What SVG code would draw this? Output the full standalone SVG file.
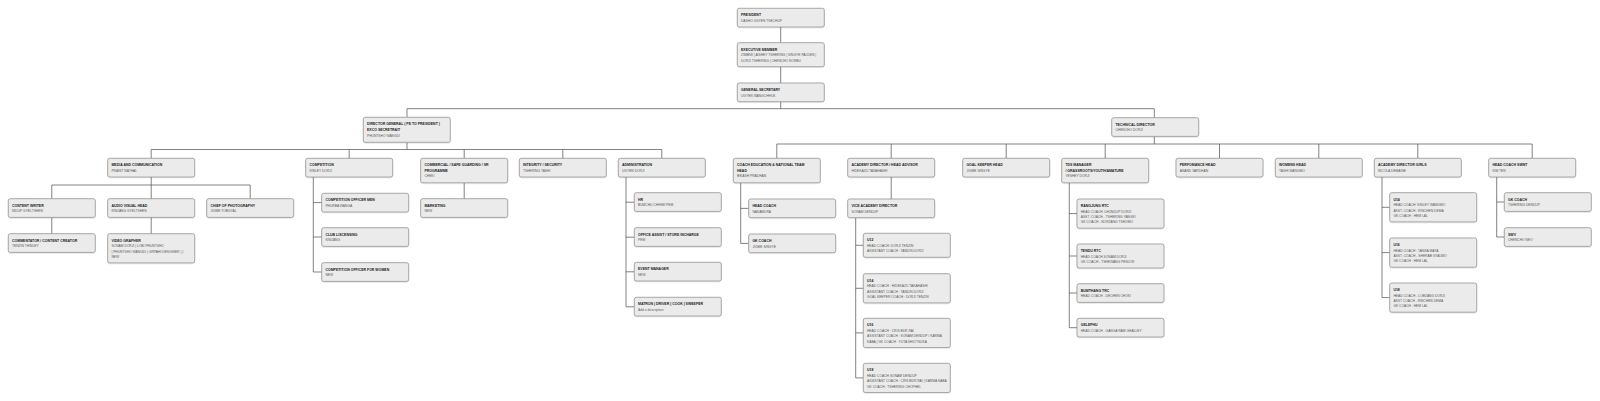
<svg xmlns="http://www.w3.org/2000/svg" width="1600" height="401" viewBox="0 0 1600 401">
<defs>
<filter id="sh" x="-5%" y="-10%" width="110%" height="130%">
<feDropShadow dx="0" dy="0.5" stdDeviation="0.5" flood-color="#000" flood-opacity="0.2"/>
</filter>
<style>
.n rect{fill:#ebebeb;stroke:#8c8c8c;stroke-width:0.7;rx:2px;ry:2px;filter:url(#sh)}
.t{font-family:"Liberation Sans",Arial,sans-serif;font-size:3.5px;font-weight:bold;fill:#222}
.s{font-family:"Liberation Sans",Arial,sans-serif;font-size:3.3px;fill:#5a5a5a}
.c{fill:none;stroke:#4d4d4d;stroke-width:0.7}
</style>
</defs>
<rect width="1600" height="401" fill="#ffffff"/>
<g id="connectors" class="c">
<path d="M780.7 27 V42.7 M780.7 66.7 V83 M780.7 101.7 V108.7 M407 108.7 H1154.3 M407 108.7 V117.3 M1154.3 108.7 V117.7"/>
<path d="M407 142.3 V149.5 M151.2 149.5 H661.8 M151.2 149.5 V158.3 M349.2 149.5 V158.3 M464.2 149.5 V158.3 M562.8 149.5 V158.3 M661.8 149.5 V158.3"/>
<path d="M1154.3 136.4 V144 M776.8 144 H1532.2 M776.8 144 V158.3 M891.2 144 V158.3 M1006.2 144 V158.3 M1105.2 144 V158.3 M1219.5 144 V158.3 M1318.8 144 V158.3 M1417.8 144 V158.3 M1532.2 144 V158.3"/>
<path d="M151.2 177 V185 M51.8 185 H250.2 M51.8 185 V198.7 M151.2 185 V198.7 M250.2 185 V198.7 M51.8 217.4 V233.7 M151.2 217.4 V233.7"/>
<path d="M313.3 177 V272 H321.7 M313.3 202.6 H321.7 M313.3 237 H321.7"/>
<path d="M464.2 182.8 V198.7"/>
<path d="M626 177 V306.8 H634.3 M626 202.2 H634.3 M626 237.2 H634.3 M626 271.8 H634.3"/>
<path d="M740.7 182.8 V243.4 H748.7 M740.7 208.4 H748.7"/>
<path d="M891.2 177 V199 M855.7 217.7 V377.9 H863.3 M855.7 245.3 H863.3 M855.7 288.3 H863.3 M855.7 332.9 H863.3"/>
<path d="M1069.3 182.8 V327.7 H1077 M1069.3 213.6 H1077 M1069.3 256 H1077 M1069.3 293 H1077"/>
<path d="M1382 177 V297.6 H1389.7 M1382 207.3 H1389.7 M1382 252.6 H1389.7"/>
<path d="M1496.7 177 V237 H1504.3 M1496.7 202 H1504.3"/>
</g>
<g id="president" class="n" transform="translate(737.3,8.3)"><rect width="87" height="18.7"/><text class="t" x="3.7" y="8.2">PRESIDENT</text><text class="s" x="3.7" y="13.6">DASHO UGYEN TSECHUP</text></g>
<g id="executive" class="n" transform="translate(737.3,42.7)"><rect width="87" height="24"/><text class="t" x="3.7" y="8.2">EXECUTIVE MEMBER</text><text class="s" x="3.7" y="13.6">ZIMBIW | AISHEY TSHERING | SINGYE PALDEN |</text><text class="s" x="3.7" y="19">DORJI TSHERING | CHENCHO NORBU</text></g>
<g id="gensec" class="n" transform="translate(737.3,83)"><rect width="87" height="18.7"/><text class="t" x="3.7" y="8.2">GENERAL SECRETARY</text><text class="s" x="3.7" y="13.6">UGYEN WANGCHHUK</text></g>
<g id="dg" class="n" transform="translate(363.3,117.3)"><rect width="87" height="25"/><text class="t" x="3.7" y="8.2">DIRECTOR GENERAL ( PE TO PRESIDENT )</text><text class="t" x="3.7" y="13.8">EXCO SECRETRAIT</text><text class="s" x="3.7" y="19.4">PHUNTSHO WANGDI</text></g>
<g id="td" class="n" transform="translate(1111.7,117.7)"><rect width="87" height="18.7"/><text class="t" x="3.7" y="8.2">TECHNICAL DIRECTOR</text><text class="s" x="3.7" y="13.6">CHENCHO DORJI</text></g>
<g id="media" class="n" transform="translate(107.7,158.3)"><rect width="87" height="18.7"/><text class="t" x="3.7" y="8.2">MEDIA AND COMMUNICATION</text><text class="s" x="3.7" y="13.6">PRANIT NATHAL</text></g>
<g id="competition" class="n" transform="translate(305.7,158.3)"><rect width="87" height="18.7"/><text class="t" x="3.7" y="8.2">COMPETITION</text><text class="s" x="3.7" y="13.6">KINLEY DORJI</text></g>
<g id="commercial" class="n" transform="translate(420.7,158.3)"><rect width="87" height="24.5"/><text class="t" x="3.7" y="8.2">COMMERCIAL / SAFE GUARDING / SR</text><text class="t" x="3.7" y="13.8">PROGRAMME</text><text class="s" x="3.7" y="19.2">CHEKI</text></g>
<g id="integrity" class="n" transform="translate(519.3,158.3)"><rect width="87" height="18.7"/><text class="t" x="3.7" y="8.2">INTEGRITY / SECURITY</text><text class="s" x="3.7" y="13.6">TSHERING TASHI</text></g>
<g id="administration" class="n" transform="translate(618.3,158.3)"><rect width="87" height="18.7"/><text class="t" x="3.7" y="8.2">ADMINISTRATION</text><text class="s" x="3.7" y="13.6">UGYEN DORJI</text></g>
<g id="coached" class="n" transform="translate(733.3,158.3)"><rect width="87" height="24.5"/><text class="t" x="3.7" y="8.2">COACH EDUCATION &amp; NATIONAL TEAM</text><text class="t" x="3.7" y="13.8">HEAD</text><text class="s" x="3.7" y="19.2">BIKASH PRADHAN</text></g>
<g id="academy" class="n" transform="translate(847.7,158.3)"><rect width="87" height="18.7"/><text class="t" x="3.7" y="8.2">ACADEMY DIRECTOR / HEAD ADVISOR</text><text class="s" x="3.7" y="13.6">HIDEKAZU TAKAHASHI</text></g>
<g id="gkhead" class="n" transform="translate(962.7,158.3)"><rect width="87" height="18.7"/><text class="t" x="3.7" y="8.2">GOAL KEEPER HEAD</text><text class="s" x="3.7" y="13.6">JIGME SINGYE</text></g>
<g id="tds" class="n" transform="translate(1061.7,158.3)"><rect width="87" height="24.5"/><text class="t" x="3.7" y="8.2">TDS MANAGER</text><text class="t" x="3.7" y="13.8">/ GRASSROOTS/YOUTH/AMATURE</text><text class="s" x="3.7" y="19.2">YESHEY DORJI</text></g>
<g id="performance" class="n" transform="translate(1176,158.3)"><rect width="87" height="18.7"/><text class="t" x="3.7" y="8.2">PERFOMANCE HEAD</text><text class="s" x="3.7" y="13.6">ANAND VARDHAN</text></g>
<g id="womens" class="n" transform="translate(1275.3,158.3)"><rect width="87" height="18.7"/><text class="t" x="3.7" y="8.2">WOMENS HEAD</text><text class="s" x="3.7" y="13.6">TASHI WANGMO</text></g>
<g id="girls" class="n" transform="translate(1374.3,158.3)"><rect width="87" height="18.7"/><text class="t" x="3.7" y="8.2">ACADEMY DIRECTOR GIRLS</text><text class="s" x="3.7" y="13.6">NICOLA DEMAINE</text></g>
<g id="swnt" class="n" transform="translate(1488.7,158.3)"><rect width="87" height="18.7"/><text class="t" x="3.7" y="8.2">HEAD COACH SWNT</text><text class="s" x="3.7" y="13.6">KIM TEN</text></g>
<g id="content" class="n" transform="translate(8.3,198.7)"><rect width="87" height="18.7"/><text class="t" x="3.7" y="8.2">CONTENT WRITER</text><text class="s" x="3.7" y="13.6">NIDUP GYELTSHEN</text></g>
<g id="audio" class="n" transform="translate(107.7,198.7)"><rect width="87" height="18.7"/><text class="t" x="3.7" y="8.2">AUDIO VISUAL HEAD</text><text class="s" x="3.7" y="13.6">KINZANG GYELTSHEN</text></g>
<g id="photo" class="n" transform="translate(206.7,198.7)"><rect width="87" height="18.7"/><text class="t" x="3.7" y="8.2">CHIEF OF PHOTOGRAPHY</text><text class="s" x="3.7" y="13.6">JIGME TOBGYAL</text></g>
<g id="commentator" class="n" transform="translate(8.3,233.7)"><rect width="87" height="18.7"/><text class="t" x="3.7" y="8.2">COMMENTATOR / CONTENT CREATOR</text><text class="s" x="3.7" y="13.6">TENZIN THINLEY</text></g>
<g id="video" class="n" transform="translate(107.7,233.7)"><rect width="87" height="29.2"/><text class="t" x="3.7" y="8.2">VIDEO GRAPHER</text><text class="s" x="3.7" y="13.6">SONAM DORJI | LOBI PHUNTSHO</text><text class="s" x="3.7" y="19">| PHUNTSHO WANGDI ( GRPAHI DESIGNER ) |</text><text class="s" x="3.7" y="24.4">NEW</text></g>
<g id="compmen" class="n" transform="translate(321.7,193.3)"><rect width="87" height="18.7"/><text class="t" x="3.7" y="8.2">COMPETITION OFFICER MEN</text><text class="s" x="3.7" y="13.6">PHURBA WANGA</text></g>
<g id="club" class="n" transform="translate(321.7,227.7)"><rect width="87" height="18.7"/><text class="t" x="3.7" y="8.2">CLUB LISCENSING</text><text class="s" x="3.7" y="13.6">KINZANG</text></g>
<g id="compwomen" class="n" transform="translate(321.7,262.7)"><rect width="87" height="18.7"/><text class="t" x="3.7" y="8.2">COMPETITION OFFICER FOR WOMEN</text><text class="s" x="3.7" y="13.6">NEW</text></g>
<g id="marketing" class="n" transform="translate(420.7,198.7)"><rect width="87" height="18.7"/><text class="t" x="3.7" y="8.2">MARKETING</text><text class="s" x="3.7" y="13.6">NEW</text></g>
<g id="hr" class="n" transform="translate(634.3,192.7)"><rect width="87" height="18.7"/><text class="t" x="3.7" y="8.2">HR</text><text class="s" x="3.7" y="13.6">BUMCHU CHHIMI PEM</text></g>
<g id="office" class="n" transform="translate(634.3,227.7)"><rect width="87" height="18.7"/><text class="t" x="3.7" y="8.2">OFFICE ASSIST / STORE INCHARGE</text><text class="s" x="3.7" y="13.6">PEM</text></g>
<g id="event" class="n" transform="translate(634.3,262.3)"><rect width="87" height="18.7"/><text class="t" x="3.7" y="8.2">EVENT MANAGER</text><text class="s" x="3.7" y="13.6">NEW</text></g>
<g id="matron" class="n" transform="translate(634.3,297.3)"><rect width="87" height="18.7"/><text class="t" x="3.7" y="8.2">MATRON | DRIVER | COOK | SWEEPER</text><text class="s" x="3.7" y="13.6">Add a description</text></g>
<g id="headcoach" class="n" transform="translate(748.7,199)"><rect width="87" height="18.7"/><text class="t" x="3.7" y="8.2">HEAD COACH</text><text class="s" x="3.7" y="13.6">NAKAMURA</text></g>
<g id="gkcoach" class="n" transform="translate(748.7,234)"><rect width="87" height="18.7"/><text class="t" x="3.7" y="8.2">GK COACH</text><text class="s" x="3.7" y="13.6">JIGME SINGYE</text></g>
<g id="vice" class="n" transform="translate(847.7,199)"><rect width="87" height="18.7"/><text class="t" x="3.7" y="8.2">VICE ACADEMY DIRECTOR</text><text class="s" x="3.7" y="13.6">SONAM DENDUP</text></g>
<g id="u12" class="n" transform="translate(863.3,233.3)"><rect width="87" height="24"/><text class="t" x="3.7" y="8.2">U12</text><text class="s" x="3.7" y="13.6">HEAD COACH: DORJI TENZIN</text><text class="s" x="3.7" y="19">ASSISTANT COACH : TANDIN DORJI</text></g>
<g id="u14" class="n" transform="translate(863.3,273.7)"><rect width="87" height="29.2"/><text class="t" x="3.7" y="8.2">U14</text><text class="s" x="3.7" y="13.6">HEAD COACH : HIDEKAZU TAKAHASHI</text><text class="s" x="3.7" y="19">ASSISTANT COACH : TANDIN DORJI</text><text class="s" x="3.7" y="24.4">GOAL KEEPER COACH : DORJI TENZIN</text></g>
<g id="u16" class="n" transform="translate(863.3,318.3)"><rect width="87" height="29.2"/><text class="t" x="3.7" y="8.2">U16</text><text class="s" x="3.7" y="13.6">HEAD COACH : CRIS BDR RAI</text><text class="s" x="3.7" y="19">ASSISTANT COACH : SONAM DENDUP / KARMA</text><text class="s" x="3.7" y="24.4">KABA | GK COACH : YUTA SHIOTSUKA</text></g>
<g id="u18" class="n" transform="translate(863.3,363.3)"><rect width="87" height="29.2"/><text class="t" x="3.7" y="8.2">U18</text><text class="s" x="3.7" y="13.6">HEAD COACH SONAM DENDUP</text><text class="s" x="3.7" y="19">ASSISTANT COACH : CRIS BDR RAI | KARMA KABA</text><text class="s" x="3.7" y="24.4">GK COACH : TSHERING CHOPHEL</text></g>
<g id="rangjung" class="n" transform="translate(1077,199)"><rect width="87" height="29.2"/><text class="t" x="3.7" y="8.2">RANGJUNG RTC</text><text class="s" x="3.7" y="13.6">HEAD COACH :LHUNDUP DORJI</text><text class="s" x="3.7" y="19">ASST. COACH - TSHERING YANGKI</text><text class="s" x="3.7" y="24.4">GK COACH - NORZANG TSHOMO</text></g>
<g id="tendu" class="n" transform="translate(1077,244)"><rect width="87" height="24"/><text class="t" x="3.7" y="8.2">TENDU RTC</text><text class="s" x="3.7" y="13.6">HEAD COACH SONAM DORJI</text><text class="s" x="3.7" y="19">GK COACH - TSHEWANG PENJOR</text></g>
<g id="bumthang" class="n" transform="translate(1077,283.7)"><rect width="87" height="18.7"/><text class="t" x="3.7" y="8.2">BUMTHANG TRC</text><text class="s" x="3.7" y="13.6">HEAD COACH - DECHEN CHOKI</text></g>
<g id="gelephu" class="n" transform="translate(1077,318.3)"><rect width="87" height="18.7"/><text class="t" x="3.7" y="8.2">GELEPHU</text><text class="s" x="3.7" y="13.6">HEAD COACH - GANGA RAM GHALLEY</text></g>
<g id="girls-u14" class="n" transform="translate(1389.7,192.7)"><rect width="87" height="29.2"/><text class="t" x="3.7" y="8.2">U14</text><text class="s" x="3.7" y="13.6">HEAD COACH: KINLEY WANGMO</text><text class="s" x="3.7" y="19">ASST. COACH : RINCHEN DEMA</text><text class="s" x="3.7" y="24.4">GK COACH : HEM LAL</text></g>
<g id="girls-u16" class="n" transform="translate(1389.7,238)"><rect width="87" height="29.2"/><text class="t" x="3.7" y="8.2">U16</text><text class="s" x="3.7" y="13.6">HEAD COACH : TANKA MAYA</text><text class="s" x="3.7" y="19">ASST. COACH - SHERAB GYALMO</text><text class="s" x="3.7" y="24.4">GK COACH : HEM LAL</text></g>
<g id="girls-u18" class="n" transform="translate(1389.7,283)"><rect width="87" height="29.2"/><text class="t" x="3.7" y="8.2">U18</text><text class="s" x="3.7" y="13.6">HEAD COACH - LOBZANG DORJI</text><text class="s" x="3.7" y="19">ASST COACH - RINCHEN DEMA</text><text class="s" x="3.7" y="24.4">GK COACH : HEM LAL</text></g>
<g id="swnt-gk" class="n" transform="translate(1504.3,192.7)"><rect width="87" height="18.7"/><text class="t" x="3.7" y="8.2">GK COACH</text><text class="s" x="3.7" y="13.6">TSHERING DENDUP</text></g>
<g id="swv" class="n" transform="translate(1504.3,227.7)"><rect width="87" height="18.7"/><text class="t" x="3.7" y="8.2">SWV</text><text class="s" x="3.7" y="13.6">CHENCHO NEO</text></g>
</svg>
